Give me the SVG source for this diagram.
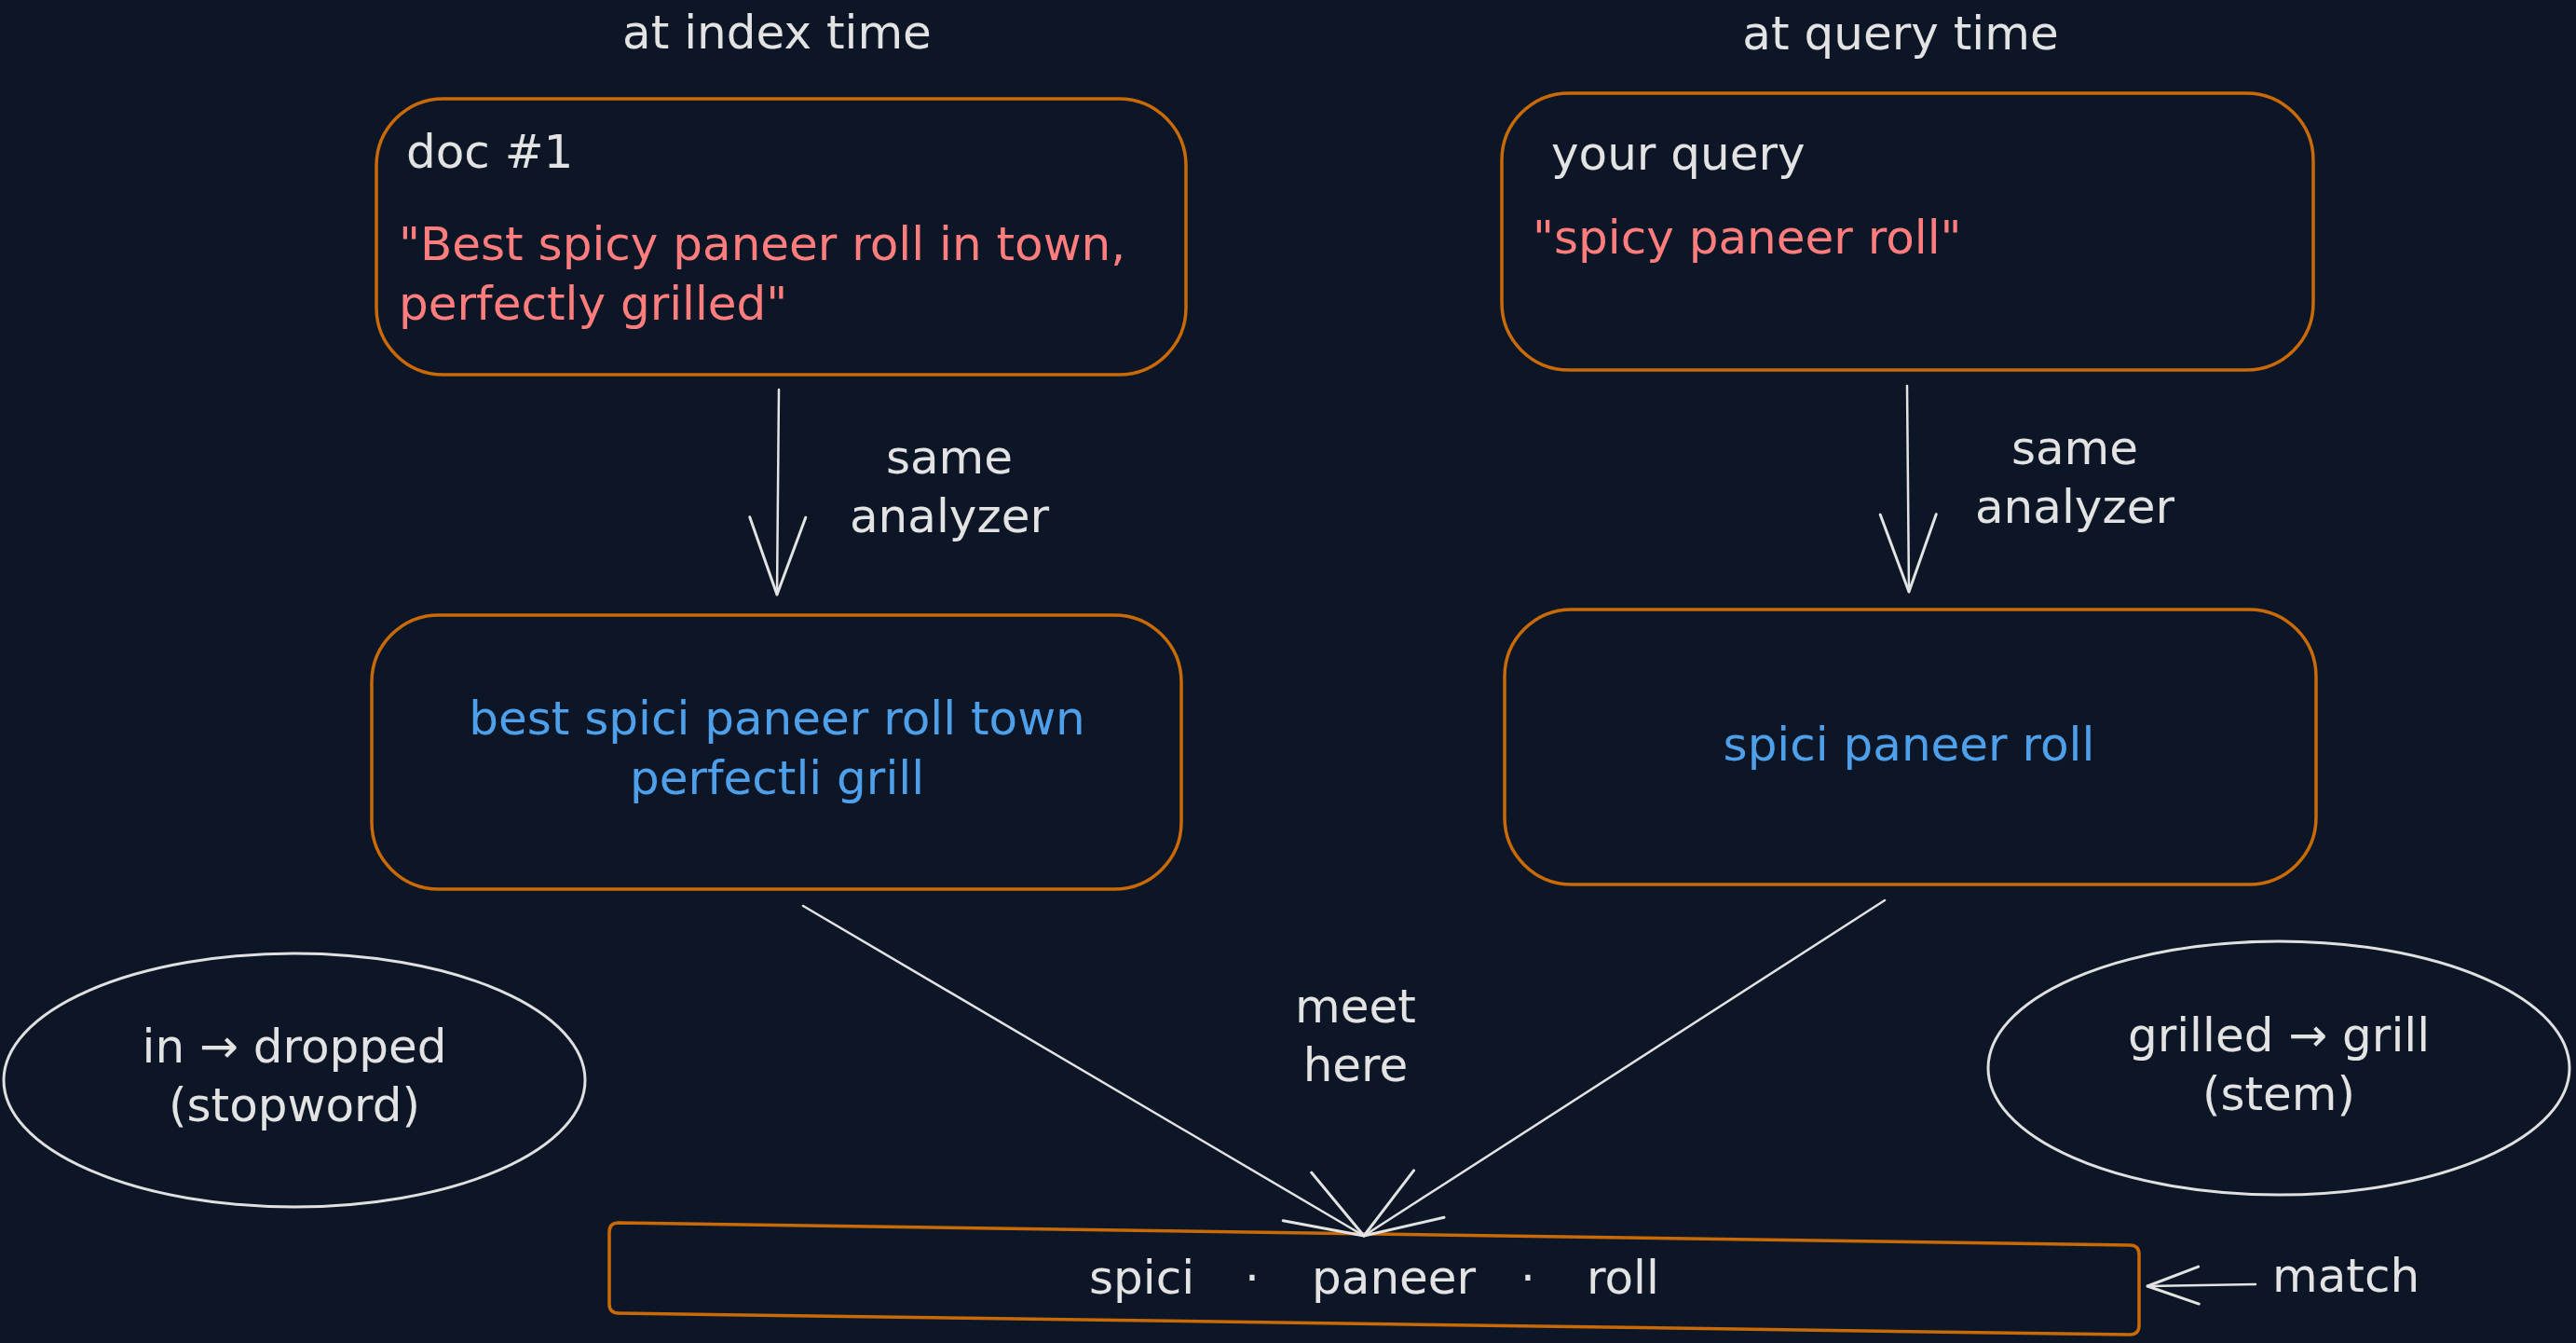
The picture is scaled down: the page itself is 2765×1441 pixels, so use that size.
<svg xmlns="http://www.w3.org/2000/svg" width="2765" height="1441" viewBox="0 0 2765 1441">
<style>
  .t { font-family: "DejaVu Sans", "Liberation Sans", sans-serif; font-size: 50px; }
  .w { fill: #e3e3e3; }
  .r { fill: #ff7d7d; }
  .b { fill: #4fa0ea; }
  .mid { text-anchor: middle; }
  .box { fill: #0d1626; stroke: #c96a06; stroke-width: 3.5; }
  .oval { fill: none; stroke: #e0e0e0; stroke-width: 3; }
  .edge { fill: none; stroke: #e3e3e3; stroke-width: 2.5; stroke-linecap: round; }
  .head { fill: none; stroke: #e3e3e3; stroke-width: 3; stroke-linecap: round; stroke-linejoin: round; }
</style>
<defs>
  <marker id="arrow" markerUnits="userSpaceOnUse" markerWidth="120" markerHeight="120" refX="100" refY="60" orient="auto" viewBox="0 0 120 120">
    <path class="head" d="M 17,30 L 100,60 L 17,90"/>
  </marker>
  <marker id="arrowSm" markerUnits="userSpaceOnUse" markerWidth="80" markerHeight="80" refX="65" refY="40" orient="auto" viewBox="0 0 80 80">
    <path class="head" d="M 10,20 L 65,40 L 10,60"/>
  </marker>
</defs>
<rect x="0" y="0" width="2765" height="1441" fill="#0d1626"/>

<g id="title-index"><text class="t w mid" x="834" y="52">at index time</text></g>
<g id="title-query"><text class="t w mid" x="2040" y="53">at query time</text></g>

<g id="doc-box">
  <rect class="box" x="404" y="106" width="869" height="296" rx="72"/>
  <text class="t w" x="436" y="180">doc #1</text>
  <text class="t r" x="428" y="279">"Best spicy paneer roll in town,</text>
  <text class="t r" x="428" y="343">perfectly grilled"</text>
</g>

<g id="query-box">
  <rect class="box" x="1612" y="100" width="871" height="297" rx="72"/>
  <text class="t w" x="1665" y="182">your query</text>
  <text class="t r" x="1645" y="272">"spicy paneer roll"</text>
</g>

<g id="doc-tokens">
  <rect class="box" x="399" y="660" width="869" height="294" rx="72"/>
  <text class="t b mid" x="834" y="788">best spici paneer roll town</text>
  <text class="t b mid" x="834" y="852">perfectli grill</text>
</g>

<g id="query-tokens">
  <rect class="box" x="1615" y="654" width="871" height="295" rx="72"/>
  <text class="t b mid" x="2049" y="816">spici paneer roll</text>
</g>

<g id="match-bar">
  <path class="box" d="M 664,1312 L 2286,1336 Q 2296,1336 2296,1346 L 2296,1422 Q 2296,1432 2286,1432 L 664,1409 Q 654,1409 654,1399 L 654,1322 Q 654,1312 664,1312 Z"/>
  <text class="t w" y="1388"><tspan x="1169">spici</tspan><tspan x="1336">·</tspan><tspan x="1408">paneer</tspan><tspan x="1632">·</tspan><tspan x="1703">roll</tspan></text>
</g>

<g id="stopword-note">
  <ellipse class="oval" cx="316" cy="1159" rx="312" ry="136"/>
  <text class="t w mid" x="316" y="1140">in → dropped</text>
  <text class="t w mid" x="316" y="1203">(stopword)</text>
</g>

<g id="stem-note">
  <ellipse class="oval" cx="2446" cy="1146" rx="312" ry="136"/>
  <text class="t w mid" x="2446" y="1128">grilled → grill</text>
  <text class="t w mid" x="2446" y="1191">(stem)</text>
</g>

<g id="labels">
  <text class="t w mid" x="1019" y="508">same</text>
  <text class="t w mid" x="1019" y="571">analyzer</text>
  <text class="t w mid" x="2227" y="498">same</text>
  <text class="t w mid" x="2227" y="561">analyzer</text>
  <text class="t w mid" x="1455" y="1097">meet</text>
  <text class="t w mid" x="1455" y="1160">here</text>
  <text class="t w" x="2439" y="1386">match</text>
</g>

<g id="connectors">
  <line class="edge" x1="836" y1="418" x2="834" y2="638" marker-end="url(#arrow)"/>
  <line class="edge" x1="2047" y1="414" x2="2049" y2="635" marker-end="url(#arrow)"/>
  <line class="edge" x1="862" y1="972" x2="1464" y2="1326" marker-end="url(#arrow)"/>
  <line class="edge" x1="2023" y1="966" x2="1464" y2="1326" marker-end="url(#arrow)"/>
  <line class="edge" x1="2421" y1="1378" x2="2305" y2="1380" marker-end="url(#arrowSm)"/>
</g>
</svg>
